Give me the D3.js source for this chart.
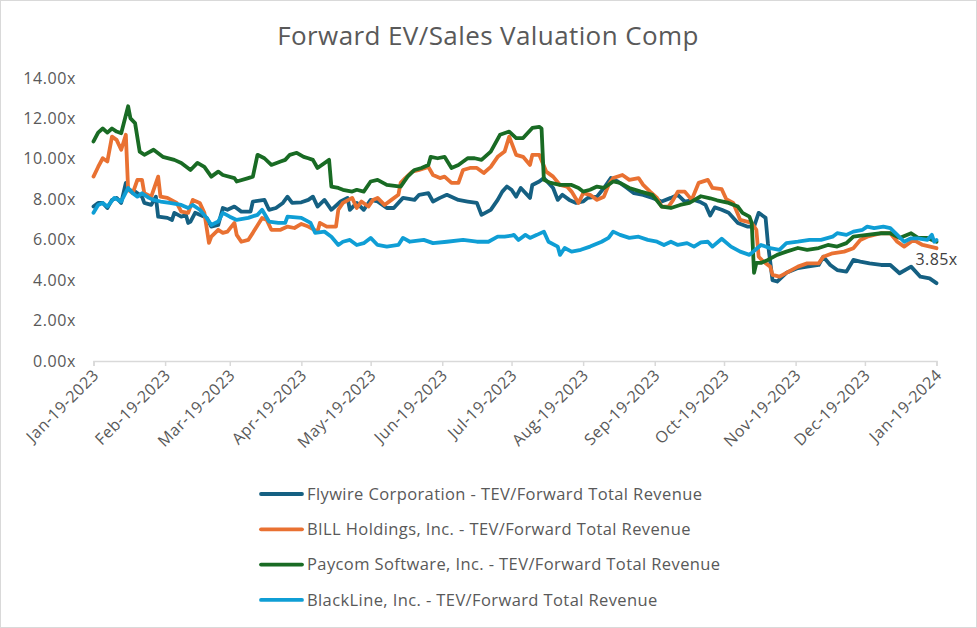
<!DOCTYPE html>
<html><head><meta charset="utf-8">
<script src="https://cdn.jsdelivr.net/npm/d3@7"></script>
<style>body{margin:0;background:#fff}svg{display:block}</style>
</head><body><svg id="c" width="977" height="628"></svg>
<script>
const title = "Forward EV/Sales Valuation Comp";
const seriesNames = [
  "Flywire Corporation - TEV/Forward Total Revenue",
  "BILL Holdings, Inc. - TEV/Forward Total Revenue",
  "Paycom Software, Inc. - TEV/Forward Total Revenue",
  "BlackLine, Inc. - TEV/Forward Total Revenue"
];
const colors = ["#156082", "#E97132", "#196B24", "#0F9ED5"];
const yTicks = [0, 2, 4, 6, 8, 10, 12, 14];
const xTickDates = ["2023-01-19","2023-02-19","2023-03-19","2023-04-19","2023-05-19","2023-06-19","2023-07-19","2023-08-19","2023-09-19","2023-10-19","2023-11-19","2023-12-19","2024-01-19"];
const lastLabel = "3.85x";

const flywire = [
["2023-01-19",7.64],["2023-01-21",7.82],["2023-01-23",7.82],["2023-01-25",7.57],["2023-01-27",7.97],["2023-01-29",8.07],["2023-01-31",7.82],["2023-02-02",8.81],["2023-02-03",8.47],["2023-02-06",8.38],["2023-02-09",8.13],["2023-02-10",7.82],["2023-02-13",7.72],["2023-02-15",8.13],["2023-02-16",7.14],["2023-02-20",7.08],["2023-02-22",6.98],["2023-02-23",7.33],["2023-02-26",7.14],["2023-02-28",7.23],["2023-03-01",6.83],["2023-03-02",6.9],["2023-03-04",7.33],["2023-03-06",7.23],["2023-03-09",7.08],["2023-03-11",6.65],["2023-03-14",6.73],["2023-03-16",7.57],["2023-03-18",7.48],["2023-03-21",7.64],["2023-03-24",7.39],["2023-03-28",7.39],["2023-03-29",7.89],["2023-04-03",7.97],["2023-04-05",7.48],["2023-04-08",7.57],["2023-04-11",7.82],["2023-04-13",8.13],["2023-04-15",7.82],["2023-04-19",7.85],["2023-04-22",7.97],["2023-04-24",8.13],["2023-04-26",7.64],["2023-04-29",7.97],["2023-05-02",7.48],["2023-05-06",7.89],["2023-05-09",8.07],["2023-05-10",7.48],["2023-05-13",7.82],["2023-05-16",7.48],["2023-05-19",7.97],["2023-05-22",7.89],["2023-05-26",7.57],["2023-05-29",7.57],["2023-06-02",8.07],["2023-06-07",7.97],["2023-06-09",8.22],["2023-06-13",8.3],["2023-06-15",7.89],["2023-06-18",8.07],["2023-06-21",8.22],["2023-06-26",7.97],["2023-06-30",7.89],["2023-07-04",7.82],["2023-07-06",7.23],["2023-07-10",7.48],["2023-07-13",7.97],["2023-07-15",8.38],["2023-07-17",8.63],["2023-07-19",8.47],["2023-07-21",8.13],["2023-07-23",8.56],["2023-07-27",8.07],["2023-07-28",8.71],["2023-07-31",8.88],["2023-08-02",9.05],["2023-08-06",8.56],["2023-08-08",7.97],["2023-08-10",8.22],["2023-08-13",7.97],["2023-08-16",7.82],["2023-08-19",7.89],["2023-08-21",8.07],["2023-08-25",8.13],["2023-08-28",8.56],["2023-08-31",9.05],["2023-09-03",8.88],["2023-09-07",8.56],["2023-09-10",8.3],["2023-09-14",8.22],["2023-09-18",8.07],["2023-09-22",7.89],["2023-09-26",8.07],["2023-09-29",8.22],["2023-10-02",7.89],["2023-10-06",7.97],["2023-10-09",7.85],["2023-10-11",7.72],["2023-10-13",7.2],["2023-10-15",7.6],["2023-10-18",7.48],["2023-10-21",7.33],["2023-10-25",6.83],["2023-10-29",6.65],["2023-11-01",6.65],["2023-11-03",7.33],["2023-11-06",7.08],["2023-11-07",5.83],["2023-11-09",4.0],["2023-11-11",3.93],["2023-11-15",4.36],["2023-11-20",4.6],["2023-11-24",4.67],["2023-11-29",4.75],["2023-12-01",5.16],["2023-12-04",4.75],["2023-12-07",4.5],["2023-12-11",4.42],["2023-12-14",5.0],["2023-12-17",4.92],["2023-12-21",4.83],["2023-12-26",4.75],["2023-12-30",4.75],["2024-01-03",4.34],["2024-01-08",4.67],["2024-01-12",4.17],["2024-01-16",4.09],["2024-01-19",3.85]
];
const bill = [
["2023-01-19",9.12],["2023-01-21",9.6],["2023-01-23",10.03],["2023-01-25",9.87],["2023-01-27",11.1],["2023-01-29",10.94],["2023-01-31",10.45],["2023-02-02",11.19],["2023-02-03",8.47],["2023-02-05",8.3],["2023-02-07",8.96],["2023-02-09",8.96],["2023-02-10",8.3],["2023-02-13",8.13],["2023-02-16",9.12],["2023-02-17",8.13],["2023-02-20",8.07],["2023-02-24",7.82],["2023-02-26",7.39],["2023-03-01",7.33],["2023-03-03",7.97],["2023-03-06",7.82],["2023-03-08",7.33],["2023-03-10",5.84],["2023-03-11",6.15],["2023-03-14",6.49],["2023-03-16",6.34],["2023-03-18",6.4],["2023-03-21",6.83],["2023-03-22",6.24],["2023-03-24",5.9],["2023-03-27",5.99],["2023-03-29",6.34],["2023-04-02",7.08],["2023-04-04",6.98],["2023-04-06",6.49],["2023-04-10",6.49],["2023-04-13",6.65],["2023-04-16",6.58],["2023-04-19",6.78],["2023-04-22",6.65],["2023-04-26",6.4],["2023-04-27",6.83],["2023-04-30",6.65],["2023-05-04",6.65],["2023-05-05",7.48],["2023-05-07",7.82],["2023-05-11",8.07],["2023-05-13",7.57],["2023-05-15",7.89],["2023-05-18",7.64],["2023-05-20",7.97],["2023-05-22",8.07],["2023-05-25",7.72],["2023-05-28",7.97],["2023-05-31",8.22],["2023-06-01",8.81],["2023-06-03",9.05],["2023-06-06",9.37],["2023-06-09",9.45],["2023-06-13",9.6],["2023-06-15",9.2],["2023-06-18",9.05],["2023-06-20",9.12],["2023-06-23",8.81],["2023-06-26",8.81],["2023-06-28",9.45],["2023-07-01",9.55],["2023-07-04",9.55],["2023-07-07",9.3],["2023-07-10",9.6],["2023-07-13",10.1],["2023-07-16",10.36],["2023-07-18",11.1],["2023-07-21",10.2],["2023-07-24",10.1],["2023-07-27",9.7],["2023-07-28",10.2],["2023-07-31",10.2],["2023-08-03",9.37],["2023-08-06",9.12],["2023-08-09",8.71],["2023-08-12",8.63],["2023-08-14",8.38],["2023-08-17",7.82],["2023-08-19",8.3],["2023-08-22",8.22],["2023-08-25",7.97],["2023-08-28",8.13],["2023-08-30",8.71],["2023-09-01",9.05],["2023-09-05",9.2],["2023-09-08",8.96],["2023-09-12",9.05],["2023-09-14",8.71],["2023-09-17",8.38],["2023-09-20",8.07],["2023-09-22",7.64],["2023-09-25",7.64],["2023-09-27",7.97],["2023-09-29",8.38],["2023-10-02",8.38],["2023-10-05",7.97],["2023-10-08",8.81],["2023-10-12",8.96],["2023-10-14",8.56],["2023-10-18",8.5],["2023-10-20",8.0],["2023-10-23",7.82],["2023-10-26",6.98],["2023-10-31",6.83],["2023-11-02",6.49],["2023-11-03",5.16],["2023-11-05",4.92],["2023-11-08",4.67],["2023-11-09",4.26],["2023-11-12",4.17],["2023-11-15",4.36],["2023-11-20",4.67],["2023-11-24",4.83],["2023-11-29",4.83],["2023-12-01",5.16],["2023-12-05",5.33],["2023-12-10",5.41],["2023-12-14",5.58],["2023-12-17",5.99],["2023-12-20",6.15],["2023-12-26",6.32],["2023-12-30",6.32],["2024-01-02",5.9],["2024-01-05",5.66],["2024-01-09",5.99],["2024-01-13",5.74],["2024-01-19",5.58]
];
const paycom = [
["2023-01-19",10.86],["2023-01-21",11.3],["2023-01-23",11.5],["2023-01-25",11.3],["2023-01-27",11.5],["2023-01-29",11.35],["2023-01-31",11.27],["2023-02-03",12.6],["2023-02-04",12.0],["2023-02-06",11.77],["2023-02-08",10.36],["2023-02-10",10.2],["2023-02-14",10.45],["2023-02-18",10.1],["2023-02-23",9.95],["2023-02-26",9.8],["2023-03-02",9.45],["2023-03-05",9.8],["2023-03-08",9.6],["2023-03-11",9.12],["2023-03-14",9.37],["2023-03-16",9.2],["2023-03-21",9.05],["2023-03-22",8.88],["2023-03-27",9.05],["2023-03-29",9.12],["2023-03-31",10.2],["2023-04-03",10.03],["2023-04-06",9.7],["2023-04-10",9.87],["2023-04-12",9.95],["2023-04-14",10.2],["2023-04-17",10.3],["2023-04-20",10.1],["2023-04-22",10.03],["2023-04-24",9.95],["2023-04-26",9.55],["2023-05-01",9.95],["2023-05-02",8.63],["2023-05-05",8.56],["2023-05-07",8.47],["2023-05-11",8.38],["2023-05-13",8.47],["2023-05-16",8.38],["2023-05-19",8.88],["2023-05-22",8.96],["2023-05-26",8.71],["2023-06-01",8.63],["2023-06-04",9.12],["2023-06-07",9.45],["2023-06-10",9.55],["2023-06-13",9.7],["2023-06-14",10.1],["2023-06-17",10.03],["2023-06-20",10.1],["2023-06-23",9.55],["2023-06-26",9.7],["2023-06-30",10.03],["2023-07-03",10.03],["2023-07-06",9.95],["2023-07-10",10.36],["2023-07-14",11.19],["2023-07-18",11.35],["2023-07-21",11.03],["2023-07-24",11.03],["2023-07-28",11.53],["2023-07-31",11.58],["2023-08-01",11.5],["2023-08-02",8.96],["2023-08-05",8.81],["2023-08-09",8.71],["2023-08-14",8.71],["2023-08-17",8.56],["2023-08-19",8.38],["2023-08-22",8.47],["2023-08-25",8.63],["2023-08-28",8.56],["2023-09-01",8.88],["2023-09-04",8.81],["2023-09-08",8.56],["2023-09-13",8.38],["2023-09-18",8.22],["2023-09-22",7.64],["2023-09-26",7.57],["2023-09-30",7.72],["2023-10-04",7.82],["2023-10-09",8.15],["2023-10-13",8.05],["2023-10-16",7.95],["2023-10-21",7.82],["2023-10-25",7.64],["2023-10-27",7.33],["2023-10-30",7.14],["2023-10-31",6.83],["2023-11-01",4.36],["2023-11-02",4.85],["2023-11-04",4.85],["2023-11-07",5.0],["2023-11-11",5.25],["2023-11-15",5.41],["2023-11-20",5.59],["2023-11-24",5.5],["2023-11-29",5.59],["2023-12-03",5.74],["2023-12-07",5.66],["2023-12-11",5.83],["2023-12-14",6.15],["2023-12-20",6.24],["2023-12-26",6.32],["2023-12-30",6.32],["2024-01-03",6.09],["2024-01-08",6.32],["2024-01-11",6.09],["2024-01-15",6.09],["2024-01-19",5.9]
];
const blackline = [
["2023-01-19",7.33],["2023-01-21",7.72],["2023-01-23",7.82],["2023-01-25",7.64],["2023-01-28",8.07],["2023-01-31",7.89],["2023-02-03",8.56],["2023-02-05",8.3],["2023-02-07",8.13],["2023-02-09",8.3],["2023-02-12",8.07],["2023-02-14",7.97],["2023-02-17",7.89],["2023-02-21",7.82],["2023-02-26",7.72],["2023-03-01",7.57],["2023-03-03",7.72],["2023-03-06",7.48],["2023-03-09",7.08],["2023-03-11",6.73],["2023-03-14",6.9],["2023-03-16",7.33],["2023-03-19",7.14],["2023-03-22",6.98],["2023-03-27",7.08],["2023-03-31",7.23],["2023-04-02",7.48],["2023-04-05",6.9],["2023-04-09",6.83],["2023-04-12",6.83],["2023-04-13",7.14],["2023-04-19",7.08],["2023-04-23",6.83],["2023-04-25",6.34],["2023-04-29",6.4],["2023-05-02",6.15],["2023-05-05",5.74],["2023-05-07",5.9],["2023-05-10",5.99],["2023-05-13",5.74],["2023-05-16",5.83],["2023-05-19",6.09],["2023-05-22",5.74],["2023-05-26",5.66],["2023-05-31",5.74],["2023-06-02",6.09],["2023-06-05",5.9],["2023-06-11",5.99],["2023-06-15",5.83],["2023-06-21",5.9],["2023-06-28",5.99],["2023-07-04",5.9],["2023-07-09",5.9],["2023-07-13",6.15],["2023-07-16",6.15],["2023-07-19",6.2],["2023-07-20",6.24],["2023-07-22",5.99],["2023-07-25",6.24],["2023-07-27",6.09],["2023-07-30",6.24],["2023-08-02",6.4],["2023-08-04",5.9],["2023-08-08",5.66],["2023-08-09",5.25],["2023-08-11",5.59],["2023-08-14",5.41],["2023-08-18",5.5],["2023-08-22",5.66],["2023-08-27",5.9],["2023-08-30",6.09],["2023-09-01",6.4],["2023-09-04",6.24],["2023-09-08",6.09],["2023-09-12",6.15],["2023-09-16",5.99],["2023-09-20",5.9],["2023-09-23",5.74],["2023-09-26",5.9],["2023-09-29",5.74],["2023-10-03",5.83],["2023-10-06",5.66],["2023-10-09",5.87],["2023-10-12",5.9],["2023-10-14",5.66],["2023-10-18",6.05],["2023-10-22",5.66],["2023-10-26",5.41],["2023-10-30",5.25],["2023-11-04",5.74],["2023-11-08",5.58],["2023-11-12",5.5],["2023-11-15",5.83],["2023-11-20",5.9],["2023-11-25",5.99],["2023-11-30",5.99],["2023-12-05",6.15],["2023-12-07",6.32],["2023-12-11",6.24],["2023-12-14",6.4],["2023-12-18",6.49],["2023-12-20",6.65],["2023-12-23",6.57],["2023-12-27",6.65],["2023-12-30",6.57],["2024-01-02",6.24],["2024-01-05",5.9],["2024-01-08",6.07],["2024-01-11",6.07],["2024-01-15",5.99],["2024-01-17",6.24],["2024-01-18",5.9],["2024-01-19",5.99]
];

const parse = d3.timeParse("%Y-%m-%d");
const fmtTick = d3.timeFormat("%b-%d-%Y");
const svg = d3.select("#c");
const W = 977, H = 628;
const font = "'Open Sans', 'Liberation Sans', sans-serif";

svg.append("rect").attr("x",0.5).attr("y",0.5).attr("width",W-1).attr("height",H-1)
  .attr("fill","#fff").attr("stroke","#d9d9d9");

svg.append("text").attr("x",488).attr("y",45).attr("text-anchor","middle")
  .attr("font-family",font).attr("font-size",26).attr("letter-spacing",0.4)
  .attr("fill","#595959").text(title);

const x = d3.scaleTime().domain([parse(xTickDates[0]), parse(xTickDates[xTickDates.length-1])]).range([93.5, 936.5]);
const y = d3.scaleLinear().domain([0, 14]).range([361, 78]);

// y axis labels
const yAxis = d3.axisLeft(y).tickValues(yTicks).tickSize(0).tickPadding(0).tickFormat(d => d3.format(".2f")(d) + "x");
const yg = svg.append("g").attr("transform","translate(76,0)").call(yAxis);
yg.select(".domain").remove();
yg.selectAll("text").attr("font-family",font).attr("font-size",16).attr("letter-spacing",0.6).attr("fill","#595959");

// x axis
const xAxis = d3.axisBottom(x).tickValues(xTickDates.map(parse)).tickSize(5).tickFormat(fmtTick);
const xg = svg.append("g").attr("transform","translate(0,361)").call(xAxis);
xg.select(".domain").attr("stroke","#d9d9d9").attr("stroke-width",1.5);
xg.selectAll(".tick line").attr("stroke","#d9d9d9").attr("stroke-width",1.5);
xg.selectAll("text").attr("font-family",font).attr("font-size",16).attr("letter-spacing",0.6).attr("fill","#595959")
  .attr("text-anchor","end").attr("dy",0).attr("y",0)
  .attr("transform","translate(6,15) rotate(-45)");

const line = d3.line().x(d => x(parse(d[0]))).y(d => y(d[1]));
const allSeries = [flywire, bill, paycom, blackline];
allSeries.forEach((s, i) => {
  svg.append("path").datum(s).attr("d", line).attr("fill","none")
    .attr("stroke", colors[i]).attr("stroke-width", 3.8)
    .attr("stroke-linejoin","round").attr("stroke-linecap","round");
});

// data label
const last = flywire[flywire.length-1];
svg.append("text").attr("x", x(parse(last[0]))).attr("y", y(last[1]) - 18)
  .attr("text-anchor","middle").attr("font-family",font).attr("font-size",16).attr("letter-spacing",0.4)
  .attr("fill","#404040").text(lastLabel);

// legend
const lg = svg.append("g");
seriesNames.forEach((n, i) => {
  const yy = 494 + i * 35.3;
  lg.append("line").attr("x1",261).attr("x2",302).attr("y1",yy).attr("y2",yy)
    .attr("stroke",colors[i]).attr("stroke-width",3.8).attr("stroke-linecap","round");
  lg.append("text").attr("x",307).attr("y",yy).attr("dy","0.35em")
    .attr("font-family",font).attr("font-size",16.5).attr("letter-spacing",0.4).attr("fill","#595959").text(n);
});
</script></body></html>
